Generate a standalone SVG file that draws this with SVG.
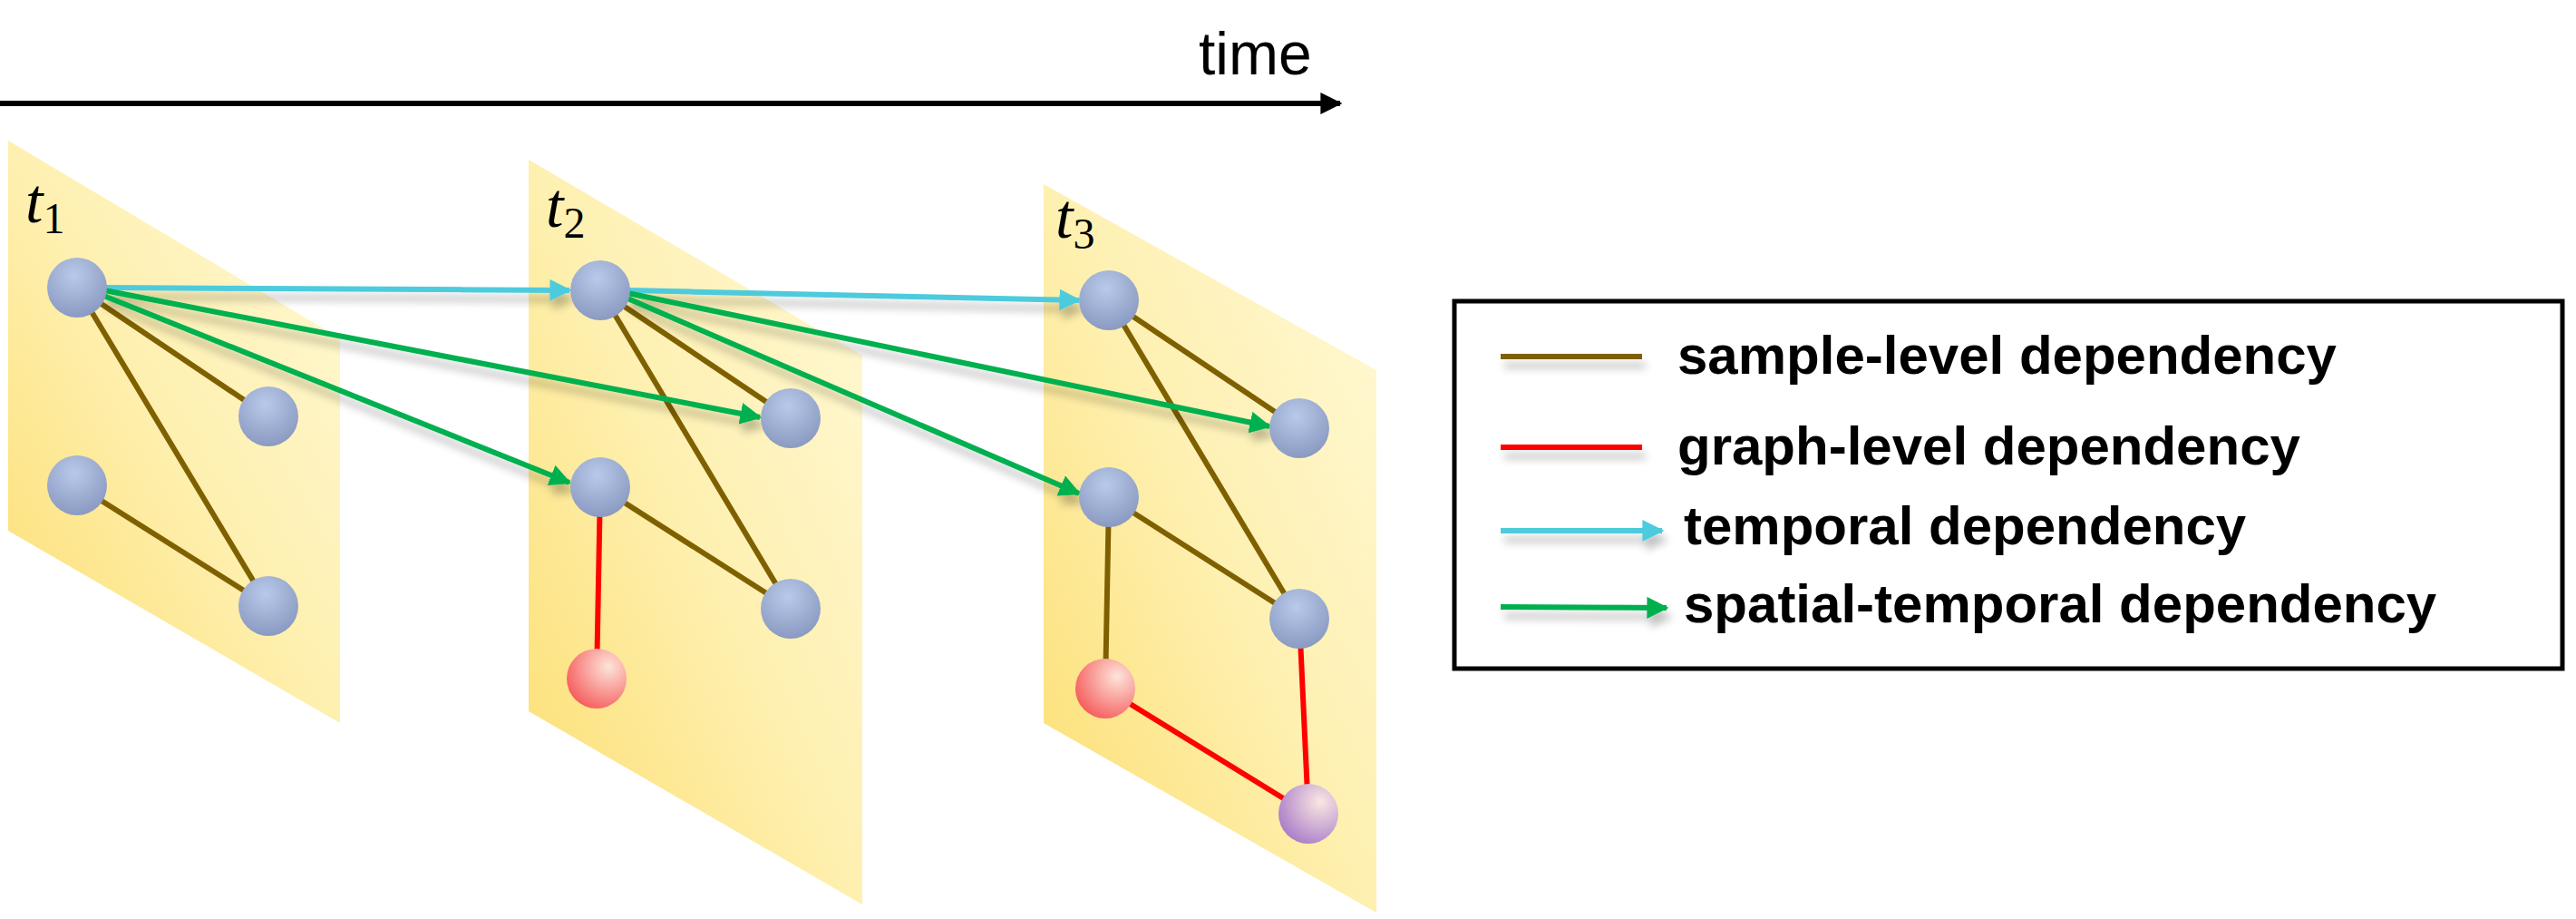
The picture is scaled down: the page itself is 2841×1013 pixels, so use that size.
<svg xmlns="http://www.w3.org/2000/svg" width="2841" height="1013" viewBox="0 0 2841 1013">
<defs>
<linearGradient id="pg" x1="0" y1="1" x2="1" y2="0"><stop offset="0" stop-color="#FCDD6E"/><stop offset="0.5" stop-color="#FEF0B0"/><stop offset="1" stop-color="#FFF9D8"/></linearGradient>
<radialGradient id="nb" cx="0.45" cy="0.3" r="0.75"><stop offset="0" stop-color="#B8CAEA"/><stop offset="1" stop-color="#8796BE"/></radialGradient>
<radialGradient id="nr" cx="0.7" cy="0.3" r="0.8"><stop offset="0" stop-color="#FDE4DA"/><stop offset="1" stop-color="#F55A5A"/></radialGradient>
<radialGradient id="np" cx="0.7" cy="0.3" r="0.8"><stop offset="0" stop-color="#FBE6E2"/><stop offset="1" stop-color="#A77CC8"/></radialGradient>
<filter id="sh" x="-10%" y="-50%" width="120%" height="200%"><feGaussianBlur in="SourceAlpha" stdDeviation="5"/><feOffset dx="4" dy="10"/><feComponentTransfer><feFuncA type="linear" slope="0.25"/></feComponentTransfer><feMerge><feMergeNode/><feMergeNode in="SourceGraphic"/></feMerge></filter>
<marker id="ac" viewBox="0 0 10 10" refX="9" refY="5" markerWidth="4" markerHeight="4" orient="auto" markerUnits="strokeWidth"><path d="M0,0 L10,5 L0,10 z" fill="#4ECBDD"/></marker>
<marker id="ag" viewBox="0 0 10 10" refX="9" refY="5" markerWidth="4" markerHeight="4" orient="auto" markerUnits="strokeWidth"><path d="M0,0 L10,5 L0,10 z" fill="#00B050"/></marker>
<marker id="ak" viewBox="0 0 10 10" refX="9" refY="5" markerWidth="4" markerHeight="4" orient="auto" markerUnits="strokeWidth"><path d="M0,0 L10,5 L0,10 z" fill="#000"/></marker>
</defs>
<style>
.pl{fill:url(#pg)}
.b{stroke:#7F6000;stroke-width:6;fill:none}
.r{stroke:#FF0000;stroke-width:6;fill:none}
.c{stroke:#4ECBDD;stroke-width:6;fill:none;marker-end:url(#ac)}
.g{stroke:#00B050;stroke-width:6;fill:none;marker-end:url(#ag)}
.n{fill:url(#nb)}
.t{font-family:"Liberation Serif",serif;font-style:italic;font-size:70px}
.s{font-family:"Liberation Serif",serif;font-style:normal;font-size:48px}
.lg{font-family:"Liberation Sans",Arial,sans-serif;font-weight:bold;font-size:60px}
</style>
<rect width="2841" height="1013" fill="#fff"/>
<g id="timeaxis">
<line x1="0" y1="114" x2="1478" y2="114" stroke="#000" stroke-width="6" marker-end="url(#ak)"/>
<text x="1322" y="82" font-family="Liberation Sans,Arial,sans-serif" font-size="66">time</text>
</g>
<g id="panel1"><polygon class="pl" points="9,155 375,373 375,797 9,585"/><text class="t" x="28" y="245">t<tspan class="s" dy="12">1</tspan></text></g>
<g id="panel2"><polygon class="pl" points="583,176 951,392 951,997 583,784"/><text class="t" x="602" y="250">t<tspan class="s" dy="12">2</tspan></text></g>
<g id="panel3"><polygon class="pl" points="1151,203 1518,408 1518,1006 1151,797"/><text class="t" x="1164" y="262">t<tspan class="s" dy="12">3</tspan></text></g>
<g id="connectors">
<line class="b" x1="85" y1="317" x2="296" y2="459"/>
<line class="b" x1="85" y1="317" x2="296" y2="668"/>
<line class="b" x1="85" y1="535" x2="296" y2="668"/>
<line class="b" x1="662" y1="320" x2="872" y2="461"/>
<line class="b" x1="662" y1="320" x2="872" y2="671"/>
<line class="b" x1="662" y1="537" x2="872" y2="671"/>
<line class="r" x1="662" y1="537" x2="658" y2="748"/>
<line class="b" x1="1223" y1="331" x2="1433" y2="472"/>
<line class="b" x1="1223" y1="331" x2="1433" y2="682"/>
<line class="b" x1="1223" y1="548" x2="1433" y2="682"/>
<line class="b" x1="1223" y1="548" x2="1219" y2="759"/>
<line class="r" x1="1433" y1="682" x2="1443" y2="897"/>
<line class="r" x1="1219" y1="759" x2="1443" y2="897"/>
<g filter="url(#sh)">
<line class="c" x1="115" y1="317" x2="628" y2="320"/>
<line class="c" x1="692" y1="320" x2="1190" y2="331"/>
<line class="g" x1="115" y1="320" x2="838" y2="460"/>
<line class="g" x1="112" y1="325" x2="628" y2="532"/>
<line class="g" x1="692" y1="323" x2="1400" y2="470"/>
<line class="g" x1="690" y1="328" x2="1190" y2="544"/>
</g>
</g>
<g id="nodes">
<g id="p1n1"><circle class="n" cx="85" cy="317" r="33"/></g>
<g id="p1n2"><circle class="n" cx="296" cy="459" r="33"/></g>
<g id="p1n3"><circle class="n" cx="85" cy="535" r="33"/></g>
<g id="p1n4"><circle class="n" cx="296" cy="668" r="33"/></g>
<g id="p2n1"><circle class="n" cx="662" cy="320" r="33"/></g>
<g id="p2n2"><circle class="n" cx="872" cy="461" r="33"/></g>
<g id="p2n3"><circle class="n" cx="662" cy="537" r="33"/></g>
<g id="p2n4"><circle class="n" cx="872" cy="671" r="33"/></g>
<g id="p2n5"><circle fill="url(#nr)" cx="658" cy="748" r="33"/></g>
<g id="p3n1"><circle class="n" cx="1223" cy="331" r="33"/></g>
<g id="p3n2"><circle class="n" cx="1433" cy="472" r="33"/></g>
<g id="p3n3"><circle class="n" cx="1223" cy="548" r="33"/></g>
<g id="p3n4"><circle class="n" cx="1433" cy="682" r="33"/></g>
<g id="p3n5"><circle fill="url(#nr)" cx="1219" cy="759" r="33"/></g>
<g id="p3n6"><circle fill="url(#np)" cx="1443" cy="897" r="33"/></g>
</g>
<g id="legend">
<rect x="1604" y="332" width="1222" height="405" fill="#fff" stroke="#000" stroke-width="5"/>
<g filter="url(#sh)">
<line class="b" x1="1655" y1="393" x2="1811" y2="393"/>
<line class="r" x1="1655" y1="493" x2="1811" y2="493"/>
<line class="c" x1="1655" y1="585" x2="1833" y2="585"/>
<line class="g" x1="1655" y1="669" x2="1838" y2="670"/>
</g>
<text class="lg" x="1850" y="412">sample-level dependency</text>
<text class="lg" x="1850" y="512">graph-level dependency</text>
<text class="lg" x="1857" y="600">temporal dependency</text>
<text class="lg" x="1857" y="686">spatial-temporal dependency</text>
</g>
</svg>
